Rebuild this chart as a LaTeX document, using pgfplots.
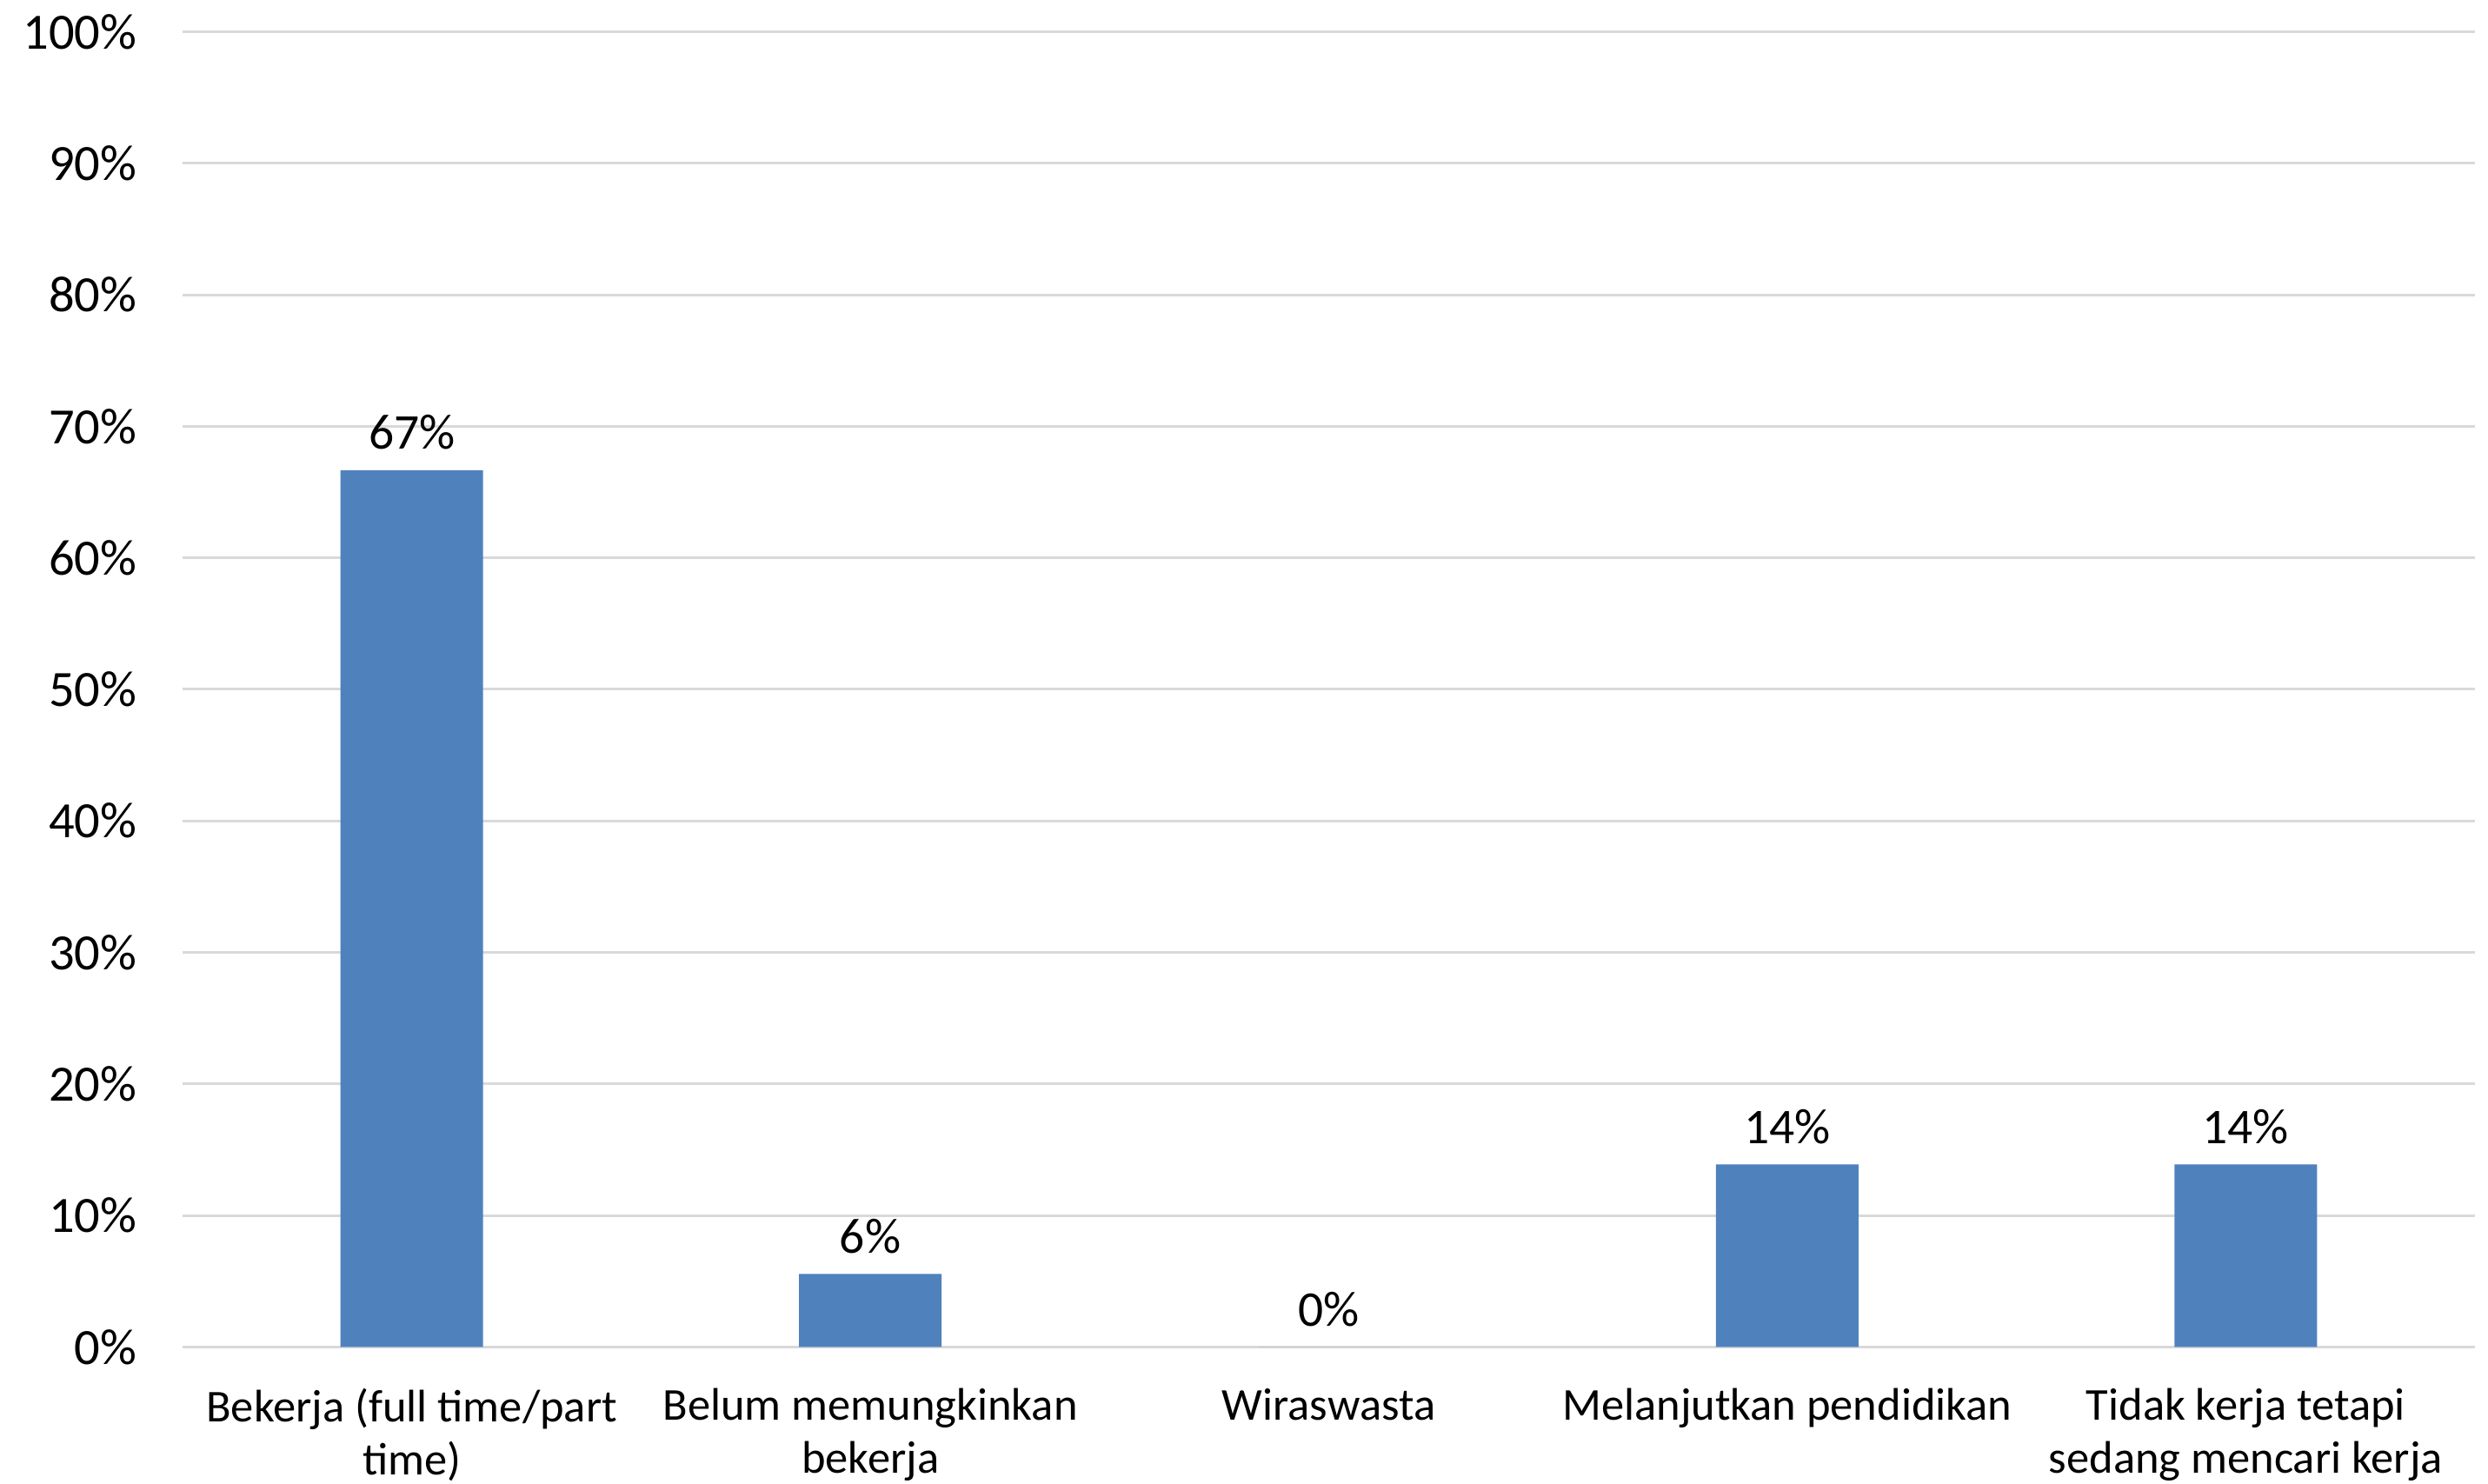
\documentclass[border=0pt]{standalone}
\usepackage{fontspec}
\setmainfont{Carlito}
\usepackage{pgfplots}
\pgfplotsset{compat=1.18}
\definecolor{barblue}{HTML}{4F81BD}
\definecolor{gridgray}{HTML}{D9D9D9}
\begin{document}
\begin{tikzpicture}
\useasboundingbox (-42pt,-31.5pt) rectangle (530.4pt,309.9pt);
\begin{axis}[
  at={(0,0)}, anchor=south west,
  scale only axis,
  width=527.4pt, height=302.6pt,
  ybar, bar width=32.8pt,
  xmin=-0.5, xmax=4.5,
  ymin=0, ymax=100,
  xtick={0,1,2,3,4},
  xticklabels={{Bekerja (full time/part\\time)},{Belum memungkinkan\\bekerja},{Wiraswasta},{Melanjutkan pendidikan},{Tidak kerja tetapi\\sedang mencari kerja}},
  xticklabel style={align=center, font=\fontsize{10.5}{12.2}\selectfont, yshift=-6pt, anchor=north},
  ytick={0,10,...,100},
  yticklabel={\pgfmathprintnumber{\tick}\%},
  yticklabel style={font=\fontsize{11.7}{13}\selectfont, xshift=-7pt},
  /pgf/number format/assume math mode=true,
  major tick length=0pt,
  ymajorgrids, grid style={gridgray, line width=0.6pt},
  axis x line*=bottom,
  axis y line*=left,
  x axis line style={draw=gridgray, line width=0.6pt, -},
  y axis line style={draw=none},
  nodes near coords={\pgfmathprintnumber[fixed,precision=0]{\pgfplotspointmeta}\%},
  nodes near coords style={font=\fontsize{11.5}{13}\selectfont, anchor=south, inner sep=0pt, yshift=4.5pt, /pgf/number format/assume math mode=true},
  clip=false,
]
\addplot[fill=barblue, draw=none] coordinates {(0,66.67) (1,5.56) (2,0) (3,13.89) (4,13.89)};
\end{axis}
\end{tikzpicture}
\end{document}
